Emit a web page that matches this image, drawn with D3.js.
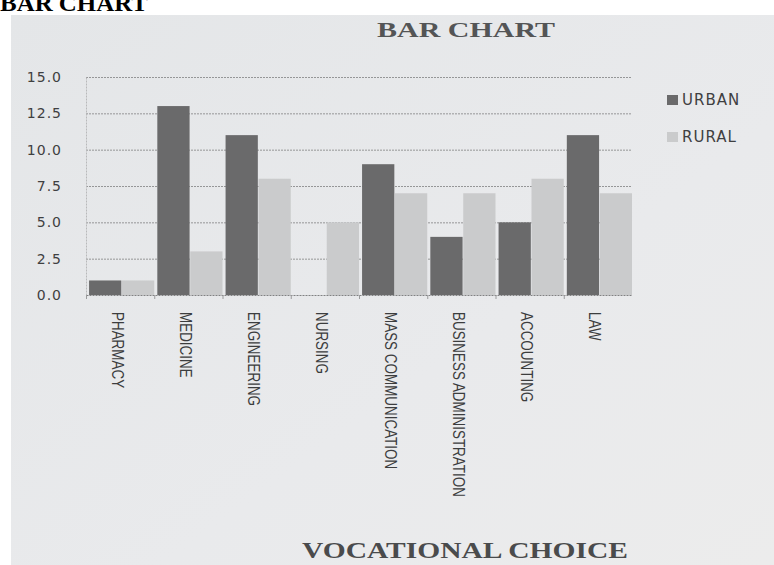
<!DOCTYPE html>
<html>
<head>
<meta charset="utf-8">
<script src="https://cdn.jsdelivr.net/npm/d3@7/dist/d3.min.js"></script>
<style>
  body { margin: 0; background: #fff; }
  svg { display: block; }
</style>
</head>
<body>
<div id="svg_container"></div>
<script>
/* -----------------------
data
------------------------- */

var categories = ["PHARMACY", "MEDICINE", "ENGINEERING", "NURSING",
    "MASS COMMUNICATION", "BUSINESS ADMINISTRATION", "ACCOUNTING", "LAW"];
var series = ["URBAN", "RURAL"];
var urban = [1, 13, 11, 0, 9, 4, 5, 11];
var rural = [1, 3, 8, 5, 7, 7, 8, 7];
var yTicks = [0, 2.5, 5, 7.5, 10, 12.5, 15];

/* -----------------------
main variables
------------------------- */

var width = 774,
    height = 565;

var margin = {top: 77, right: 142, bottom: 270, left: 86},
    nomargin_w = width - (margin.left + margin.right),
    nomargin_h = height - (margin.top + margin.bottom);

var colors = {URBAN: "#6a6a6b", RURAL: "#cacbcc"};

var svg = d3.select("#svg_container")
    .append("svg")
    .attr("width", width)
    .attr("height", height);

// page heading, cut off at the top of the scan
svg.append("text")
    .attr("x", 0)
    .attr("y", 11)
    .attr("font-family", "'Liberation Serif', 'Times New Roman', serif")
    .attr("font-weight", "bold")
    .attr("font-size", "24px")
    .attr("fill", "#000")
    .attr("textLength", 148)
    .attr("lengthAdjust", "spacingAndGlyphs")
    .text("BAR CHART");

// scanned sheet
var grad = svg.append("defs").append("linearGradient")
    .attr("id", "paper")
    .attr("x1", "0").attr("y1", "0").attr("x2", "1").attr("y2", "1");
grad.append("stop").attr("offset", "0").attr("stop-color", "#e4e6e8");
grad.append("stop").attr("offset", "0.6").attr("stop-color", "#e9eaec");
grad.append("stop").attr("offset", "1").attr("stop-color", "#ececec");

svg.append("rect")
    .attr("x", 11)
    .attr("y", 15)
    .attr("width", width - 11)
    .attr("height", height - 15)
    .attr("fill", "url(#paper)");

// chart title
svg.append("text")
    .attr("x", 377)
    .attr("y", 37)
    .attr("font-family", "'Liberation Serif', 'Times New Roman', serif")
    .attr("font-weight", "bold")
    .attr("font-size", "22px")
    .attr("fill", "#545556")
    .attr("textLength", 178)
    .attr("lengthAdjust", "spacingAndGlyphs")
    .text("BAR CHART");

// axis title
svg.append("text")
    .attr("x", 302)
    .attr("y", 558)
    .attr("font-family", "'Liberation Serif', 'Times New Roman', serif")
    .attr("font-weight", "bold")
    .attr("font-size", "23px")
    .attr("fill", "#4a4b4c")
    .attr("textLength", 326)
    .attr("lengthAdjust", "spacingAndGlyphs")
    .text("VOCATIONAL CHOICE");

var plot = svg.append("g")
    .attr("id", "d3_plot")
    .attr("transform", "translate(" + margin.left + "," + margin.top + ")");

/* -----------------------
scales
------------------------- */

var x0 = d3.scaleBand()
    .domain(categories)
    .range([0, nomargin_w]);

var x1 = d3.scaleBand()
    .domain(series)
    .range([x0.bandwidth() * 0.045, x0.bandwidth()])
    .paddingInner(0.02);

var y = d3.scaleLinear()
    .domain([0, 15])
    .range([nomargin_h, 0]);

/* -----------------------
grid and axes
------------------------- */

plot.append("g")
    .attr("class", "grid")
    .selectAll("line")
    .data(yTicks.filter(function(t) { return t > 0; }))
    .enter()
    .append("line")
    .attr("x1", 0)
    .attr("x2", nomargin_w)
    .attr("y1", function(d) { return y(d) + 0.5; })
    .attr("y2", function(d) { return y(d) + 0.5; })
    .attr("stroke", "#959697")
    .attr("stroke-width", 1)
    .attr("stroke-dasharray", "2,1");

var yAxis = plot.append("g")
    .attr("class", "axis axis-y")
    .call(d3.axisLeft(y)
        .tickValues(yTicks)
        .tickSize(0)
        .tickPadding(24)
        .tickFormat(d3.format(".1f")));

yAxis.select(".domain")
    .attr("stroke", "#b8b9ba")
    .attr("stroke-dasharray", "2,1");

yAxis.selectAll("text")
    .attr("font-family", "'DejaVu Sans', sans-serif")
    .attr("font-size", "14px")
    .attr("letter-spacing", "1px")
    .attr("fill", "#3f4041");

/* -----------------------
bars
------------------------- */

var values = {URBAN: urban, RURAL: rural};

var groups = plot.selectAll(".group")
    .data(categories)
    .enter()
    .append("g")
    .attr("class", "group")
    .attr("transform", function(d) { return "translate(" + x0(d) + ",0)"; });

groups.selectAll("rect")
    .data(function(d, i) {
        return series.map(function(s) { return {key: s, value: values[s][i]}; });
    })
    .enter()
    .append("rect")
    .attr("x", function(d) { return x1(d.key); })
    .attr("y", function(d) { return y(d.value); })
    .attr("width", x1.bandwidth())
    .attr("height", function(d) { return nomargin_h - y(d.value); })
    .attr("fill", function(d) { return colors[d.key]; });

var xAxis = plot.append("g")
    .attr("class", "axis axis-x")
    .attr("transform", "translate(0," + nomargin_h + ")")
    .call(d3.axisBottom(x0).tickSize(0).tickPadding(0));

xAxis.select(".domain")
    .attr("stroke", "#808182")
    .attr("stroke-dasharray", "2,1");

// small ticks at the category boundaries
xAxis.selectAll(".sep")
    .data(categories)
    .enter()
    .append("line")
    .attr("class", "sep")
    .attr("x1", function(d) { return x0(d) + 0.5; })
    .attr("x2", function(d) { return x0(d) + 0.5; })
    .attr("y1", 0)
    .attr("y2", 4)
    .attr("stroke", "#9a9b9c");

// labels read top to bottom, narrow like the original
xAxis.selectAll(".tick text")
    .attr("font-family", "'Liberation Sans', Arial, sans-serif")
    .attr("font-size", "16px")
    .attr("fill", "#3c3d3e")
    .attr("text-anchor", "start")
    .attr("transform", "translate(-3,17) rotate(90) scale(0.84,1)")
    .attr("x", 0)
    .attr("y", 0)
    .attr("dy", "0.35em");

/* -----------------------
legend
------------------------- */

var legend = svg.append("g")
    .attr("class", "legend")
    .attr("transform", "translate(667,95)");

var item = legend.selectAll("g")
    .data(series)
    .enter()
    .append("g")
    .attr("transform", function(d, i) { return "translate(0," + (i * 37) + ")"; });

item.append("rect")
    .attr("width", 11)
    .attr("height", 10)
    .attr("fill", function(d) { return colors[d]; });

item.append("text")
    .attr("x", 15)
    .attr("y", 5)
    .attr("dy", "0.36em")
    .attr("font-family", "'DejaVu Sans', sans-serif")
    .attr("font-size", "15px")
    .attr("letter-spacing", "1px")
    .attr("fill", "#3f4041")
    .text(function(d) { return d; });
</script>
</body>
</html>
